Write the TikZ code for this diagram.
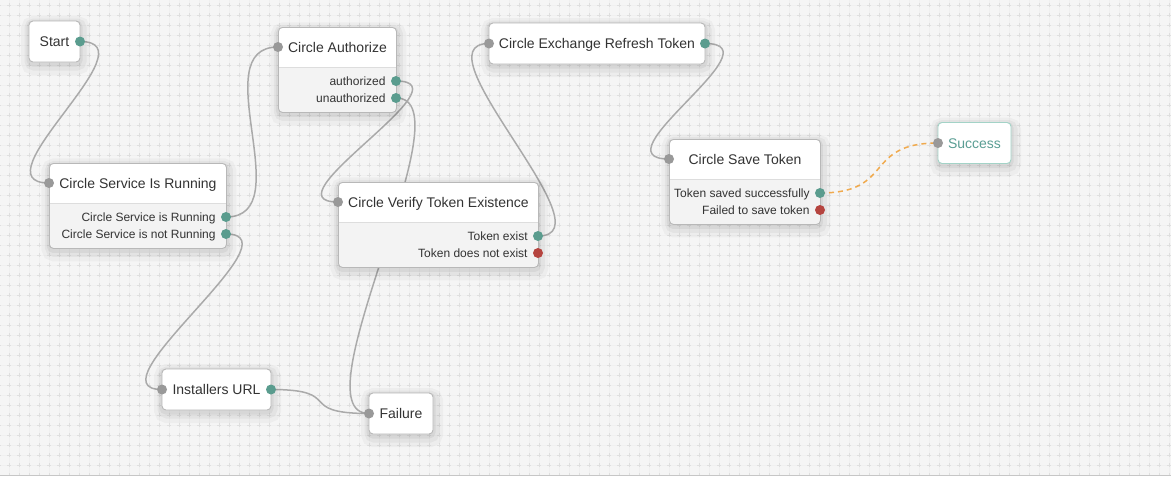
\documentclass[tikz,border=0pt]{standalone}
\usepackage{fontspec}
\setmainfont{Liberation Sans}

\definecolor{canvasbg}{HTML}{F5F5F5}
\definecolor{gridcol}{HTML}{F0F0F0}
\definecolor{crosscol}{HTML}{DFDFDF}
\definecolor{boxborder}{HTML}{B8B8B8}
\definecolor{lowbg}{HTML}{F3F3F3}
\definecolor{sepcol}{HTML}{DDDDDD}
\definecolor{textcol}{HTML}{333333}
\definecolor{portgray}{HTML}{999999}
\definecolor{portteal}{HTML}{5A9C8E}
\definecolor{portred}{HTML}{B5443F}
\definecolor{wirecol}{HTML}{AAAAAA}
\definecolor{wireorange}{HTML}{F0AA4E}
\definecolor{successborder}{HTML}{A3D3C7}
\definecolor{successtext}{HTML}{5A9E94}

\tikzset{
  softshadow/.style={
    preaction={draw=black, draw opacity=0.03, line width=18pt, transform canvas={xshift=1pt, yshift=-4pt}},
    preaction={draw=black, draw opacity=0.04, line width=11pt, transform canvas={xshift=1pt, yshift=-3pt}},
    preaction={draw=black, draw opacity=0.05, line width=5pt, transform canvas={yshift=-2pt}}},
  box/.style={softshadow, draw=boxborder, line width=0.9pt, fill=white, rounded corners=4pt,
    inner sep=0pt, minimum height=41pt, text=textcol,
    font=\fontsize{14}{16}\selectfont, text height=10pt, text depth=0pt},
  twopart/.style={box, fill=lowbg, minimum height=85pt,
    path picture={
      \fill[white, sharp corners] (path picture bounding box.north west) rectangle ([yshift=-40pt]path picture bounding box.north east);
      \draw[sepcol, sharp corners] ([yshift=-40pt]path picture bounding box.north west) -- ([yshift=-40pt]path picture bounding box.north east);
    }},
  title/.style={font=\fontsize{14}{16}\selectfont, text=textcol, inner sep=0pt, text height=10pt, text depth=0pt},
  port/.style={circle, inner sep=0pt, minimum size=10pt},
  inport/.style={port, fill=portgray},
  okport/.style={port, fill=portteal},
  errport/.style={port, fill=portred},
  portlabel/.style={font=\fontsize{12}{14}\selectfont, text=textcol, inner sep=0pt,
    text height=8.6pt, text depth=0pt, label distance=5pt},
  wire/.style={draw=wirecol, line width=1.5pt, to path={.. controls +(75,0) and +(-75,0) .. (\tikztotarget)}},
  gridline/.style={draw=gridcol, line width=0.5pt},
  gridcross/.style={draw=crosscol, line width=0.7pt, dash pattern=on 4pt off 6pt},
}

\begin{document}
\begin{tikzpicture}[x=1pt, y=-1pt]
  \useasboundingbox (0,0) rectangle (1171,477);

  % canvas
  \fill[canvasbg] (0,0) rectangle (1171,475.5);
  \foreach \gx in {9,19,...,1169} {
    \draw[gridline] (\gx,0) -- (\gx,475);
    \draw[gridcross, dash phase=7pt] (\gx,0) -- (\gx,475);
  }
  \foreach \gy in {5,15,...,465} {
    \draw[gridline] (0,\gy) -- (1171,\gy);
    \draw[gridcross, dash phase=3pt] (0,\gy) -- (1171,\gy);
  }
  \draw[boxborder!80, line width=1pt] (0,475.5) -- (1171,475.5);

  % port positions
  \coordinate (startOut) at (80,41.5);
  \coordinate (srvIn) at (49,183);
  \coordinate (srvRun) at (226,217);
  \coordinate (srvNot) at (226,234);
  \coordinate (authIn) at (278,47);
  \coordinate (authOk) at (396,81);
  \coordinate (authNo) at (396,98);
  \coordinate (verifyIn) at (338,202);
  \coordinate (verifyOk) at (538,236);
  \coordinate (verifyNo) at (538,253);
  \coordinate (exchIn) at (489,43.5);
  \coordinate (exchOut) at (705,43.5);
  \coordinate (saveIn) at (669,159);
  \coordinate (saveOk) at (820,193);
  \coordinate (saveNo) at (820,210);
  \coordinate (instIn) at (162,389.5);
  \coordinate (instOut) at (271,389.5);
  \coordinate (failIn) at (369,413.5);
  \coordinate (succIn) at (938,143);

  % wires
  \draw[wire] (startOut) to (srvIn);
  \draw[wire] (srvRun) to (authIn);
  \draw[wire] (srvNot) to (instIn);
  \draw[wire] (authOk) to (verifyIn);
  \draw[wire] (authNo) to (failIn);
  \draw[wire] (instOut) to (failIn);
  \draw[wire] (verifyOk) to (exchIn);
  \draw[wire] (exchOut) to (saveIn);
  \draw[wire, draw=wireorange, dash pattern=on 5pt off 4pt] (saveOk) to (succIn);

  % single boxes
  \node[box, minimum width=51pt] (start) at (54.5,41.5) {Start};
  \node[box, minimum width=216pt] (exch) at (597,43.5) {Circle Exchange Refresh Token};
  \node[box, minimum width=109pt] (inst) at (216.5,389.5) {Installers URL};
  \node[box, minimum width=64pt] (fail) at (401,413.5) {Failure};
  \node[box, minimum width=73pt, draw=successborder, text=successtext] (succ) at (974.5,143) {Success};

  % boxes with outputs
  \node[twopart, minimum width=177pt, anchor=north west] (srv) at (49,163) {};
  \node[twopart, minimum width=118pt, anchor=north west] (auth) at (278,27) {};
  \node[twopart, minimum width=200pt, anchor=north west] (verify) at (338,182) {};
  \node[twopart, minimum width=151pt, anchor=north west] (save) at (669,139) {};

  \node[title] (srvTitle) at ([yshift=-20pt]srv.north) {Circle Service Is Running};
  \node[title] (authTitle) at ([yshift=-20pt]auth.north) {Circle Authorize};
  \node[title] (verifyTitle) at ([yshift=-20pt]verify.north) {Circle Verify Token Existence};
  \node[title] (saveTitle) at ([yshift=-20pt]save.north) {Circle Save Token};

  % ports
  \node[okport] (startOutDot) at (startOut) {};
  \node[inport] (exchInDot) at (exchIn) {};
  \node[okport] (exchOutDot) at (exchOut) {};
  \node[inport] (instInDot) at (instIn) {};
  \node[okport] (instOutDot) at (instOut) {};
  \node[inport] (failInDot) at (failIn) {};
  \node[inport] (succInDot) at (succIn) {};

  \node[inport] (srvInDot) at (srvIn) {};
  \node[okport, label={[portlabel]left:Circle Service is Running}] (srvRunDot) at (srvRun) {};
  \node[okport, label={[portlabel]left:Circle Service is not Running}] (srvNotDot) at (srvNot) {};

  \node[inport] (authInDot) at (authIn) {};
  \node[okport, label={[portlabel]left:authorized}] (authOkDot) at (authOk) {};
  \node[okport, label={[portlabel]left:unauthorized}] (authNoDot) at (authNo) {};

  \node[inport] (verifyInDot) at (verifyIn) {};
  \node[okport, label={[portlabel]left:Token exist}] (verifyOkDot) at (verifyOk) {};
  \node[errport, label={[portlabel]left:Token does not exist}] (verifyNoDot) at (verifyNo) {};

  \node[inport] (saveInDot) at (saveIn) {};
  \node[okport, label={[portlabel]left:Token saved successfully}] (saveOkDot) at (saveOk) {};
  \node[errport, label={[portlabel]left:Failed to save token}] (saveNoDot) at (saveNo) {};
\end{tikzpicture}
\end{document}
